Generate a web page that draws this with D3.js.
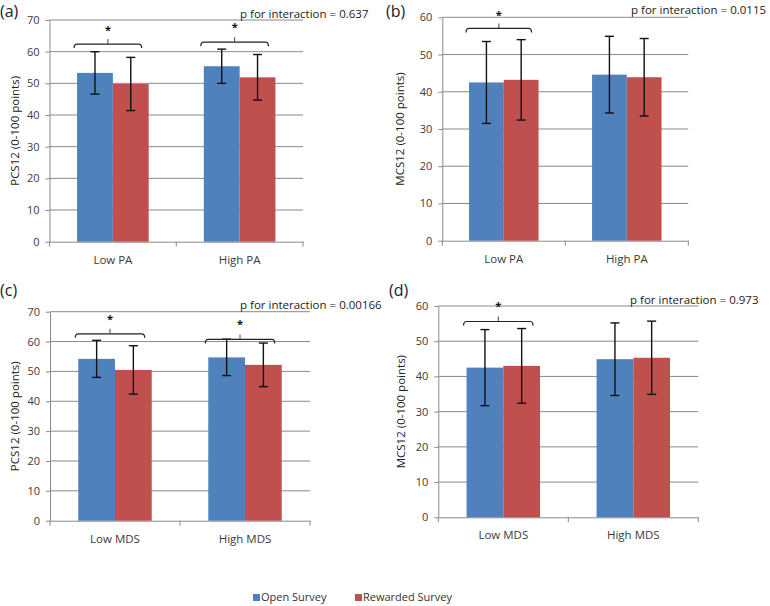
<!DOCTYPE html>
<html><head><meta charset="utf-8">
<script src="https://cdn.jsdelivr.net/npm/d3@7"></script>
<style>body{margin:0;background:#fff} svg{display:block} text{font-family:"Open Sans",sans-serif}</style>
</head><body><svg id="c" width="770" height="606"></svg>
<script>
// ---------- data ----------
const seriesNames = ["Open Survey", "Rewarded Survey"];
const seriesColors = ["#4F81BD", "#C0504D"];
const catsPA = ["Low PA", "High PA"];
const catsMDS = ["Low MDS", "High MDS"];
const yTicksPCS = [0, 10, 20, 30, 40, 50, 60, 70];
const yTicksMCS = [0, 10, 20, 30, 40, 50, 60];
const panelLetters = ["(a)", "(b)", "(c)", "(d)"];
const yTitles = ["PCS12 (0-100 points)", "MCS12 (0-100 points)", "PCS12 (0-100 points)", "MCS12 (0-100 points)"];
const pLabels = ["p for interaction = 0.637", "p for interaction = 0.0115", "p for interaction = 0.00166", "p for interaction = 0.973"];

// (a) PCS12 by PA
const aOpen = [53.3, 55.4], aOpenSD = [6.7, 5.4];
const aRew = [49.8, 51.9], aRewSD = [8.4, 7.2];
// (b) MCS12 by PA
const bOpen = [42.5, 44.6], bOpenSD = [11.0, 10.3];
const bRew = [43.2, 43.9], bRewSD = [10.8, 10.4];
// (c) PCS12 by MDS
const cOpen = [54.2, 54.7], cOpenSD = [6.2, 6.1];
const cRew = [50.5, 52.2], cRewSD = [8.1, 7.3];
// (d) MCS12 by MDS
const dOpen = [42.5, 44.9], dOpenSD = [10.8, 10.3];
const dRew = [43.0, 45.3], dRewSD = [10.6, 10.4];

// significance brackets (value level of bracket, value level of star)
const sigA = [{cat: "Low PA", level: 62.4, star: 67.6}, {cat: "High PA", level: 63.0, star: 68.4}];
const sigB = [{cat: "Low PA", level: 57.0, star: 61.1}];
const sigC = [{cat: "Low MDS", level: 62.6, star: 68.1}, {cat: "High MDS", level: 60.7, star: 66.4}];
const sigD = [{cat: "Low MDS", level: 55.6, star: 60.5}];

// ---------- layout ----------
const panels = [
  {cats: catsPA, ticks: yTicksPCS, open: aOpen, openSD: aOpenSD, rew: aRew, rewSD: aRewSD, sig: sigA,
   l: 49.5, r: 303, t: 20, b: 241.7, letter: [0, 17], p: [240, 18], tx: 15},
  {cats: catsPA, ticks: yTicksMCS, open: bOpen, openSD: bOpenSD, rew: bRew, rewSD: bRewSD, sig: sigB,
   l: 442.3, r: 688.3, t: 17.3, b: 240.7, letter: [386, 17], p: [631, 14], tx: 400},
  {cats: catsMDS, ticks: yTicksPCS, open: cOpen, openSD: cOpenSD, rew: cRew, rewSD: cRewSD, sig: sigC,
   l: 50, r: 310, t: 311.7, b: 520.7, letter: [0, 296], p: [240, 309], tx: 15},
  {cats: catsMDS, ticks: yTicksMCS, open: dOpen, openSD: dOpenSD, rew: dRew, rewSD: dRewSD, sig: sigD,
   l: 438.3, r: 698.3, t: 306, b: 517.3, letter: [389, 296], p: [630, 303.5], tx: 401}
];

const svg = d3.select("#c");
const gridColor = "#8a8a8a";
const textColor = "#3a3a3a";

panels.forEach((P, i) => {
  const g = svg.append("g");
  const y = d3.scaleLinear().domain([0, d3.max(P.ticks)]).range([P.b, P.t]);
  const x = d3.scaleBand().domain(P.cats).range([P.l, P.r]).paddingInner(0.435).paddingOuter(0.2175);
  const xs = d3.scaleBand().domain(seriesNames).range([0, x.bandwidth()]);

  // gridlines
  g.selectAll("line.grid").data(P.ticks.filter(d => d > 0)).join("line")
    .attr("x1", P.l).attr("x2", P.r).attr("y1", d => y(d)).attr("y2", d => y(d))
    .attr("stroke", gridColor).attr("stroke-width", 1);

  // y axis
  const ya = g.append("g").attr("transform", `translate(${P.l},0)`)
    .call(d3.axisLeft(y).tickValues(P.ticks).tickSize(4).tickSizeOuter(0).tickPadding(6));
  ya.select(".domain").attr("stroke", gridColor);
  ya.selectAll(".tick line").attr("stroke", gridColor);
  ya.selectAll("text").attr("fill", textColor).style("font-size", "11px").style("font-family", '"Open Sans",sans-serif');

  // x axis
  const xa = g.append("g").attr("transform", `translate(0,${P.b})`)
    .call(d3.axisBottom(x).tickSize(0).tickSizeOuter(0).tickPadding(14));
  xa.select(".domain").attr("stroke", gridColor);
  xa.selectAll("text").attr("fill", textColor).style("font-size", "11.5px").style("font-family", '"Open Sans",sans-serif');
  const [r0, r1] = x.range();
  g.selectAll("line.xt").data([r0, (r0 + r1) / 2, r1]).join("line")
    .attr("x1", d => d).attr("x2", d => d).attr("y1", P.b).attr("y2", P.b + 5)
    .attr("stroke", gridColor);

  // bars
  const rows = [];
  P.cats.forEach((c, k) => {
    rows.push({cat: c, s: seriesNames[0], v: P.open[k], sd: P.openSD[k], col: seriesColors[0]});
    rows.push({cat: c, s: seriesNames[1], v: P.rew[k], sd: P.rewSD[k], col: seriesColors[1]});
  });
  g.selectAll("rect.bar").data(rows).join("rect")
    .attr("x", d => x(d.cat) + xs(d.s)).attr("width", xs.bandwidth())
    .attr("y", d => y(d.v)).attr("height", d => y(0) - y(d.v))
    .attr("fill", d => d.col);

  // error bars
  const eb = g.selectAll("g.eb").data(rows).join("g");
  const cx = d => x(d.cat) + xs(d.s) + xs.bandwidth() / 2;
  eb.append("line").attr("x1", cx).attr("x2", cx)
    .attr("y1", d => y(d.v + d.sd)).attr("y2", d => y(d.v - d.sd))
    .attr("stroke", "#111").attr("stroke-width", 1.4);
  [1, -1].forEach(sgn => {
    eb.append("line").attr("x1", d => cx(d) - 4.5).attr("x2", d => cx(d) + 4.5)
      .attr("y1", d => y(d.v + sgn * d.sd)).attr("y2", d => y(d.v + sgn * d.sd))
      .attr("stroke", "#111").attr("stroke-width", 1.4);
  });

  // significance brackets
  P.sig.forEach(s => {
    const x1 = x(s.cat) - 3, x2 = x(s.cat) + x.bandwidth() - 7, xc = (x1 + x2) / 2, yy = y(s.level);
    g.append("path")
      .attr("d", `M${x1},${yy + 4} Q${x1},${yy} ${x1 + 3},${yy} L${x2 - 3},${yy} Q${x2},${yy} ${x2},${yy + 4}`)
      .attr("fill", "none").attr("stroke", "#222").attr("stroke-width", 1.2);
    g.append("line").attr("x1", xc).attr("x2", xc).attr("y1", yy).attr("y2", yy - 5)
      .attr("stroke", "#444").attr("stroke-width", 1);
    g.append("text").attr("x", xc).attr("y", y(s.star) + 6).attr("text-anchor", "middle")
      .attr("fill", "#111").style("font-size", "11px").style("font-weight", "bold").text("*");
  });

  // y title
  g.append("text").attr("transform", `translate(${P.tx + 4},${(P.t + P.b) / 2}) rotate(-90)`)
    .attr("text-anchor", "middle").attr("fill", "#222").style("font-size", "11.5px").text(yTitles[i]);

  // letter
  g.append("text").attr("x", P.letter[0]).attr("y", P.letter[1]).attr("fill", "#222")
    .style("font-size", "16px").text(panelLetters[i]);
  // p label
  g.append("text").attr("x", P.p[0]).attr("y", P.p[1]).attr("fill", "#222")
    .style("font-size", "11.5px").text(pLabels[i]);
});

// legend
const lg = svg.append("g");
const legX = [253, 355];
seriesNames.forEach((s, k) => {
  lg.append("rect").attr("x", legX[k]).attr("y", 594).attr("width", 7).attr("height", 7).attr("fill", seriesColors[k]);
  lg.append("text").attr("x", legX[k] + 8).attr("y", 601).attr("fill", "#333")
    .style("font-size", "11px").text(s);
});
</script></body></html>
